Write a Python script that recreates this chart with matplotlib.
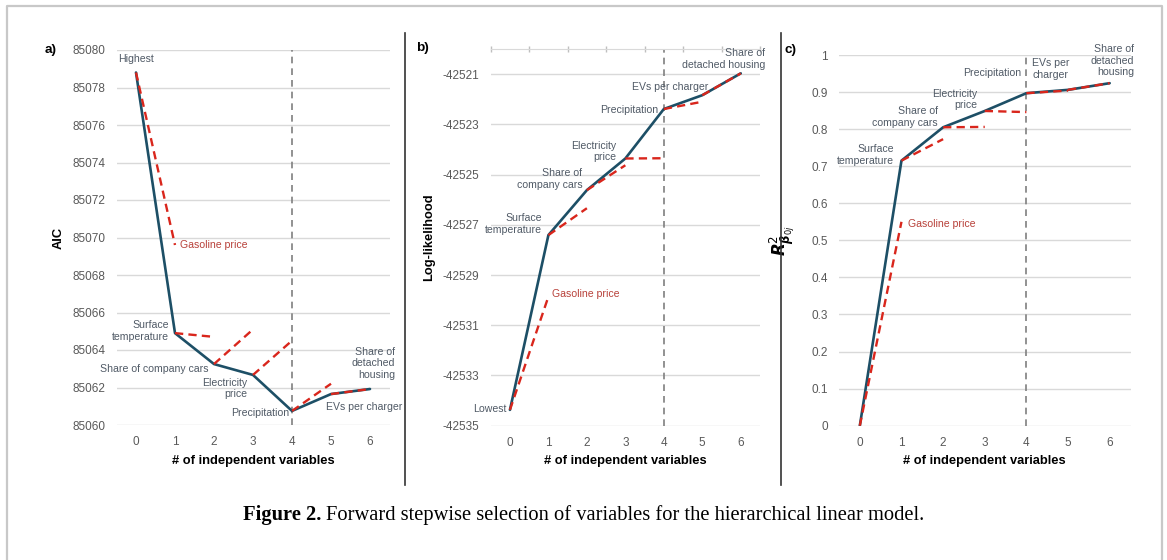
import numpy as np
import matplotlib.pyplot as plt
from matplotlib.lines import Line2D

plt.rcParams['font.family'] = ['Liberation Sans', 'DejaVu Sans']

# values
steps = [0, 1, 2, 3, 4, 5, 6]

aic_best = [85078.8, 85064.9, 85063.25, 85062.67, 85060.75, 85061.65, 85061.92]
aic_alt = [85069.6, 85064.7, 85065.1, 85064.5, 85062.2, 85061.92]

ll_best = [-42534.37, -42527.41, -42525.62, -42524.36, -42522.39, -42521.84, -42520.97]
ll_alt = [-42529.86, -42526.34, -42524.63, -42524.35, -42522.1, -42520.97]

r2_best = [0.0, 0.715, 0.805, 0.849, 0.897, 0.906, 0.924]
r2_alt = [0.550, 0.773, 0.806, 0.846, 0.904, 0.924]

aic_ticks = np.arange(85060, 85081, 2)
ll_ticks = np.arange(-42535, -42520, 2)
r2_ticks = np.round(np.arange(0, 1.01, 0.1), 1)

BLUE = '#1D4F66'
RED = '#D9261C'
RED_TXT = '#B8413A'
TXT = '#505A66'
TICK = '#595959'
GRID = '#D9D9D9'

W, H = 1167, 560
fig = plt.figure(figsize=(W / 100, H / 100), dpi=100)


def px_axes(l, r, top, bottom):
    return fig.add_axes([l / W, 1 - bottom / H, (r - l) / W, (bottom - top) / H])


def draw_panel(ax, best, alt, ticks, ylim, ylabel, ylab_x, xlab_y, ylab_size=9.3):
    ax.set_xlim(-0.5, 6.5)
    ax.set_ylim(*ylim)
    ax.set_xticks(steps)
    ax.set_yticks(ticks)
    ax.set_yticklabels([('%g' % t) for t in ticks])
    ax.grid(axis='y', color=GRID, lw=1)
    ax.set_axisbelow(True)
    for s in ax.spines.values():
        s.set_visible(False)
    ax.tick_params(axis='both', length=0, labelsize=8.5, labelcolor=TICK, pad=8)
    ax.axvline(4, color='#7F7F7F', ls=(0, (4, 3)), lw=1.2, zorder=1)
    ax.plot(steps, best, color=BLUE, lw=1.9, zorder=3, solid_capstyle='round')
    for i in range(len(alt)):
        ax.plot([steps[i], steps[i + 1]], [best[i], alt[i]], color=RED, lw=1.7,
                ls=(0, (3.5, 2.2)), zorder=4)
    ax.set_ylabel(ylabel, fontsize=ylab_size, fontweight='bold', color='black')
    ax.yaxis.set_label_coords(ylab_x, 0.5)
    ax.set_xlabel('# of independent variables', fontsize=9.3, fontweight='bold')
    ax.xaxis.set_label_coords(0.5, xlab_y)
    ax.xaxis.label.set_verticalalignment('center')


def annotate(ax, labels):
    for txt, x, y, ha, col in labels:
        ax.text(x, y, txt, ha=ha, va='center', multialignment=ha,
                fontsize=7.6, color=col, linespacing=1.2)


# panel a
ax1 = px_axes(116.5, 389.5, 50, 425)
draw_panel(ax1, aic_best, aic_alt, aic_ticks, (85060, 85080), 'AIC', -0.189, -0.096)
annotate(ax1, [
    ('Highest', 0, 85079.5, 'center', TXT),
    ('Gasoline price', 1.13, 85069.6, 'left', RED_TXT),
    ('Surface\ntemperature', 0.85, 85065.0, 'right', TXT),
    ('Share of company cars', 1.87, 85062.99, 'right', TXT),
    ('Electricity\nprice', 2.85, 85061.95, 'right', TXT),
    ('Precipitation', 3.92, 85060.64, 'right', TXT),
    ('EVs per charger', 4.87, 85060.96, 'left', TXT),
    ('Share of\ndetached\nhousing', 6.64, 85063.3, 'right', TXT),
])

# panel b
ax2 = px_axes(490.7, 760, 49, 425.7)
draw_panel(ax2, ll_best, ll_alt, ll_ticks, (-42535, -42520), 'Log-likelihood', -0.207, -0.0937)
ax2.spines['top'].set_visible(True)
ax2.spines['top'].set_color(GRID)
ax2.set_xticks(np.arange(-0.5, 7, 1), minor=True)
ax2.tick_params(axis='x', which='minor', top=True, bottom=False, length=5,
                direction='inout', color='#BFBFBF', width=1)
annotate(ax2, [
    ('Lowest', -0.1, -42534.32, 'right', TXT),
    ('Gasoline price', 1.09, -42529.76, 'left', RED_TXT),
    ('Surface\ntemperature', 0.84, -42526.96, 'right', TXT),
    ('Share of\ncompany cars', 1.88, -42525.18, 'right', TXT),
    ('Electricity\nprice', 2.77, -42524.08, 'right', TXT),
    ('Precipitation', 3.86, -42522.41, 'right', TXT),
    ('EVs per charger', 5.17, -42521.5, 'right', TXT),
    ('Share of\ndetached housing', 6.64, -42520.39, 'right', TXT),
])

# panel c
ax3 = px_axes(839, 1130.5, 55, 425.7)
draw_panel(ax3, r2_best, r2_alt, r2_ticks, (0, 1), r'$\mathbfit{R}^{2}_{\mathbfit{\beta}_{0j}}$',
           -0.144, -0.0952, ylab_size=12)
annotate(ax3, [
    ('Gasoline price', 1.15, 0.543, 'left', RED_TXT),
    ('Surface\ntemperature', 0.82, 0.731, 'right', TXT),
    ('Share of\ncompany cars', 1.87, 0.832, 'right', TXT),
    ('Electricity\nprice', 2.81, 0.880, 'right', TXT),
    ('Precipitation', 3.87, 0.951, 'right', TXT),
    ('EVs per\ncharger', 4.58, 0.962, 'center', TXT),
    ('Share of\ndetached\nhousing', 6.58, 0.985, 'right', TXT),
])

# panel letters
for lab, x, y in [('a)', 45, 50), ('b)', 416, 48), ('c)', 785, 50)]:
    fig.text(x / W, 1 - y / H, lab, fontsize=9.7, fontweight='bold', va='center')

# dividers and outer frame
for x in [405, 781]:
    fig.add_artist(Line2D([x / W, x / W], [1 - 33 / H, 1 - 485 / H], color='#333333', lw=1.2))
fig.add_artist(Line2D([7 / W, 7 / W, 1162 / W, 1162 / W], [0, 1 - 6 / H, 1 - 6 / H, 0],
                      color='#C8C8C8', lw=1.6))

# caption
cy = 1 - 515 / H
t1 = fig.text(0, cy, 'Figure 2.', family='Liberation Serif', fontweight='bold', fontsize=14.8, va='center')
t2 = fig.text(0, cy, 'Forward stepwise selection of variables for the hierarchical linear model.',
              family='Liberation Serif', fontsize=14.8, va='center')
fig.canvas.draw()
r = fig.canvas.get_renderer()
w1 = t1.get_window_extent(r).width
w2 = t2.get_window_extent(r).width
gap = 4
x0 = 583.5 - (w1 + gap + w2) / 2
t1.set_x(x0 / W)
t2.set_x((x0 + w1 + gap) / W)

fig.savefig('out.png', dpi=100)
